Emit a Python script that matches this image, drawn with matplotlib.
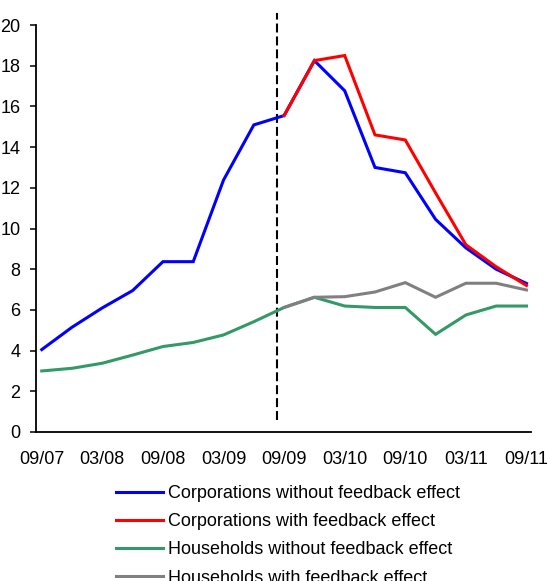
import numpy as np
import matplotlib
matplotlib.use("Agg")
import matplotlib.pyplot as plt

plt.rcParams['font.family'] = ['Liberation Sans', 'DejaVu Sans']

# Quarterly observations, 09/07 .. 09/11
quarters = np.arange(17)
tick_labels = ['09/07', '03/08', '09/08', '03/09', '09/09',
               '03/10', '09/10', '03/11', '09/11']

nan = np.nan
corp_without = [4.05, 5.15, 6.1, 6.95, 8.37, 8.37, 12.38, 15.09, 15.55,
                18.25, 16.77, 13.0, 12.74, 10.45, 9.05, 8.0, 7.3]
corp_with = [nan] * 8 + [15.55, 18.25, 18.5, 14.6, 14.35, 11.75, 9.2, 8.12, 7.2]
hh_without = [3.0, 3.13, 3.38, 3.78, 4.2, 4.4, 4.77, 5.42, 6.12,
              6.62, 6.19, 6.12, 6.12, 4.8, 5.75, 6.19, 6.19]
hh_with = [nan] * 8 + [6.12, 6.62, 6.65, 6.88, 7.34, 6.62, 7.31, 7.31, 6.98]

series_labels = ['Corporations without feedback effect',
                 'Corporations with feedback effect',
                 'Households without feedback effect',
                 'Households with feedback effect']
colors = ['#0000FF', '#FF0000', '#339966', '#808080']

# position of the forecast start marker (in quarters)
forecast_start = 7.78

fig = plt.figure(figsize=(5.48, 5.81), dpi=100)
ax = fig.add_axes([36 / 548, 1 - 432 / 581, (531 - 36) / 548, (432 - 25) / 581])

lw = 2.2
handles = []
for ys, c, lab in zip([corp_without, corp_with, hh_without, hh_with], colors, series_labels):
    (h,) = ax.plot(quarters, ys, color=c, lw=lw, label=lab, solid_joinstyle='miter')
    handles.append(h)

ax.plot([forecast_start, forecast_start], [0.6, 20.6], color='black', lw=1.5,
        dashes=(4.3, 1.9), clip_on=False, zorder=1)

ax.set_xlim(-0.19, 16.15)
ax.set_ylim(0, 20)
ax.set_yticks(np.arange(0, 21, 2))
ax.set_xticks(quarters[::2])
ax.set_xticklabels(tick_labels)

for s in ['top', 'right']:
    ax.spines[s].set_visible(False)
for s in ['left', 'bottom']:
    ax.spines[s].set_linewidth(1.3)
    ax.spines[s].set_color('black')

ax.tick_params(axis='y', direction='out', length=4.3, width=1.1, pad=7, labelsize=13)
ax.tick_params(axis='x', length=0, pad=14, labelsize=13)

fig.legend(handles=handles, labels=series_labels, loc='upper left',
           bbox_to_anchor=(116 / 548, 1 - 485 / 581), frameon=False,
           fontsize=13, handlelength=2.6, handletextpad=0.3,
           labelspacing=0.62, borderpad=0, borderaxespad=0)

fig.savefig('out.png', dpi=100)
